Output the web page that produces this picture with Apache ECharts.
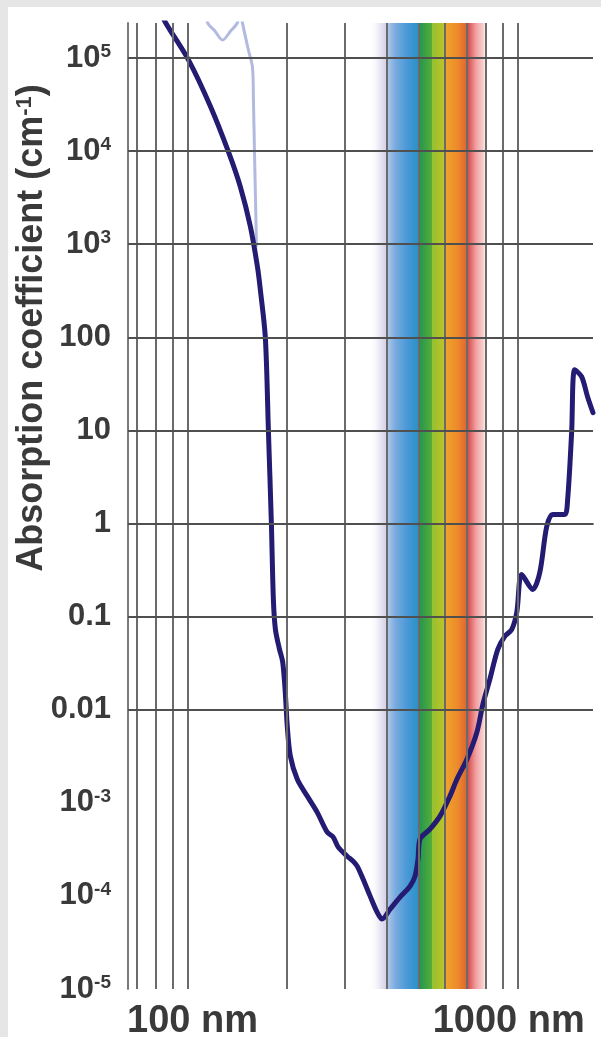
<!DOCTYPE html>
<html>
<head>
<meta charset="utf-8">
<script src="https://cdn.jsdelivr.net/npm/echarts@6/dist/echarts.min.js"></script>
<style>
  html, body { margin: 0; padding: 0; background: #e6e6e6; }
  #chart { position: absolute; left: 8px; top: 7px; width: 593px; height: 1030px; background: #ffffff; }
</style>
</head>
<body>
<div id="chart"></div>
<script>
// wavelength (nm) / absorption coefficient (1/cm)
const mainNm = [80, 85.8, 100.7, 117.4, 133, 144.6, 155, 162.8, 166.1, 172,
  175.7, 179.4, 181.9, 184.5, 189.7, 194, 197.5, 200.5, 204.8,
  214.9, 230.4, 247, 264.8, 276.1, 285.9, 304.3, 317.3, 326.3, 340.2,
  357.2, 375, 388.3, 410.5, 440, 471.7, 488.4, 498.7, 505.7, 542.2,
  581.3, 623.2, 654.3, 701.6, 752, 784, 823, 870, 913.4, 959.2,
  993.2, 1028, 1110, 1166, 1224, 1276, 1387, 1416, 1456, 1487,
  1561, 1627, 1690];
const mainAbs = [4e5, 2.4e5, 9.5e4, 3e4, 9.8e3, 4.1e3, 1540, 570, 324, 99,
  10, 1, 0.153, 0.073, 0.045, 0.033, 0.016, 6.5e-3, 3.16e-3,
  1.79e-3, 1.18e-3, 7.9e-4, 4.84e-4, 4.28e-4, 3.34e-4, 2.67e-4, 2.36e-4, 2.09e-4, 1.51e-4,
  9.95e-5, 6.7e-5, 5.64e-5, 7.2e-5, 9.7e-5, 1.27e-4, 1.63e-4, 2.48e-4, 4.07e-4, 5.21e-4,
  7.19e-4, 1.18e-3, 1.79e-3, 2.94e-3, 5.73e-3, 0.0114, 0.0212, 0.0445, 0.0614, 0.073,
  0.111, 0.284, 0.196, 0.298, 0.929, 1.25, 1.25, 1.81, 9.5, 44.9,
  37.8, 23, 15.5];

// the faint curve near the top
const faintNm = [112, 115, 121, 127.6, 135, 141.6, 144, 146.6, 152.8, 157.2, 158.3, 159.4, 160.6, 161.7];
const faintAbs = [4e5, 2.4e5, 1.95e5, 1.56e5, 1.95e5, 2.4e5, 3.5e5, 2.4e5, 1.22e5, 8e4, 3.5e4, 1.03e4, 3e3, 940];

// grid lines
const xGridNm = [70, 80, 90, 100, 200, 300, 400, 500, 600, 700, 800, 900, 1000];
const yGridAbs = [1e-4, 1e-3, 1e-2, 1e-1, 1, 10, 100, 1e3, 1e4, 1e5];

// tick labels
const xTickNm = [100, 1000];
const xTickText = ['100 nm', '1000 nm'];
const yTickExp = [-5, -4, -3, -2, -1, 0, 1, 2, 3, 4, 5];
const yTickText = ['10^-5', '10^-4', '10^-3', '0.01', '0.1', '1', '10', '100', '10^3', '10^4', '10^5'];

// visible spectrum bands (nm)
const bandFrom = [355, 400, 500, 550, 600, 700];
const bandTo = [400, 500, 550, 600, 700, 800];
const bandFill = [
  [[0, 'rgba(255,255,255,0)'], [0.5, '#f1eff7'], [1, '#d4d0e8']],
  [[0, '#b4cbea'], [0.3, '#76a9de'], [0.7, '#4497d6'], [1, '#2a92c6']],
  [[0, '#1f9450'], [1, '#56ae3a']],
  [[0, '#95bf2e'], [1, '#bcc52a']],
  [[0, '#f0a52a'], [0.6, '#ec8a2c'], [1, '#e0662f']],
  [[0, '#c8443c'], [0.2, '#e06666'], [0.5, '#f2a2a2'], [0.85, '#f8cccc'], [1, '#fdf0f0']]
];

const FONT = '"Liberation Sans", Arial, sans-serif';
const TXT = '#3a3a3a';

const mainData = mainNm.map((x, i) => [x, mainAbs[i]]);
const faintData = faintNm.map((x, i) => [x, faintAbs[i]]);

const bandAreas = bandFrom.map((from, i) => [
  {
    xAxis: from,
    itemStyle: {
      color: new echarts.graphic.LinearGradient(0, 0, 1, 0,
        bandFill[i].map(s => ({ offset: s[0], color: s[1] })))
    }
  },
  { xAxis: bandTo[i] }
]);

const gridLines = xGridNm.map(v => ({ xAxis: v, lineStyle: { color: '#6b6b6b' } }))
  .concat(yGridAbs.map(v => ({ yAxis: v, lineStyle: { color: '#505050' } })));

function yLabel(v) {
  const k = Math.round(v);
  if (Math.abs(v - k) > 1e-6) return '';
  const i = yTickExp.indexOf(k);
  if (i < 0) return '';
  const t = yTickText[i];
  if (t.indexOf('^') < 0) return t;
  const parts = t.split('^');
  return '{b|' + parts[0] + '}{s|' + parts[1] + '}';
}

function xLabel(v) {
  const i = xTickNm.findIndex(t => Math.abs(t - v) < 1e-6 * t);
  if (i < 0) return '';
  return '{' + (i === 0 ? 'a' : 'c') + '|' + xTickText[i] + '}';
}

const chart = echarts.init(document.getElementById('chart'));
const option = {
  animation: false,
  grid: { left: 120, top: 16, right: 8, bottom: 48, outerBoundsMode: 'none', containLabel: false },
  xAxis: {
    type: 'log',
    logBase: 10,
    min: 66,
    max: 1690,
    axisLine: { show: true, lineStyle: { color: '#707070', width: 2 } },
    axisTick: { show: false },
    splitLine: { show: false },
    minorSplitLine: { show: false },
    axisLabel: {
      margin: 14,
      formatter: xLabel,
      rich: {
        a: { fontSize: 38, fontWeight: 'bold', fontFamily: FONT, color: TXT, padding: [0, 0, 0, 10] },
        c: { fontSize: 38, fontWeight: 'bold', fontFamily: FONT, color: TXT, padding: [0, 18, 0, 0] }
      }
    }
  },
  yAxis: [
    {
      type: 'log',
      logBase: 10,
      min: 1e-5,
      max: 2.38e5,
      position: 'left',
      axisLine: { show: true, lineStyle: { color: '#7a7a7a', width: 2 } },
      axisTick: { show: false },
      axisLabel: { show: false },
      splitLine: { show: false }
    },
    {
      // exponent axis, only carries the decade labels
      type: 'value',
      min: -5,
      max: 5.376,
      interval: 1,
      position: 'left',
      axisLine: { show: false },
      axisTick: { show: false },
      splitLine: { show: false },
      axisLabel: {
        margin: 17,
        fontSize: 31,
        fontWeight: 'bold',
        fontFamily: FONT,
        color: TXT,
        formatter: yLabel,
        rich: {
          b: { fontSize: 31, fontWeight: 'bold', fontFamily: FONT, color: TXT },
          s: { fontSize: 19, fontWeight: 'bold', fontFamily: FONT, color: TXT, verticalAlign: 'top' }
        }
      }
    }
  ],
  graphic: [
    {
      type: 'text',
      x: 24,
      y: 321,
      rotation: Math.PI / 2,
      style: {
        text: '{a|Absorption coefficient (cm}{s|-1}{a|)}',
        align: 'center',
        verticalAlign: 'middle',
        rich: {
          a: { fontSize: 36, fontWeight: 'bold', fontFamily: FONT, fill: TXT },
          s: { fontSize: 22, fontWeight: 'bold', fontFamily: FONT, fill: TXT, verticalAlign: 'top' }
        }
      }
    }
  ],
  series: [
    {
      type: 'line',
      data: [],
      z: 1,
      markArea: { silent: true, data: bandAreas }
    },
    {
      type: 'line',
      data: [],
      z: 2,
      markLine: {
        silent: true,
        symbol: ['none', 'none'],
        label: { show: false },
        lineStyle: { width: 2, type: 'solid', color: '#5e5e5e' },
        data: gridLines
      }
    },
    {
      type: 'line',
      data: faintData,
      z: 3,
      symbol: 'none',
      smooth: 0.3,
      lineStyle: { color: '#b2badf', width: 3 }
    },
    {
      type: 'line',
      data: mainData,
      z: 4,
      symbol: 'none',
      smooth: 0.3,
      lineStyle: { color: '#231c72', width: 5, cap: 'round', join: 'round' }
    }
  ]
};
chart.setOption(option);
</script>
</body>
</html>
